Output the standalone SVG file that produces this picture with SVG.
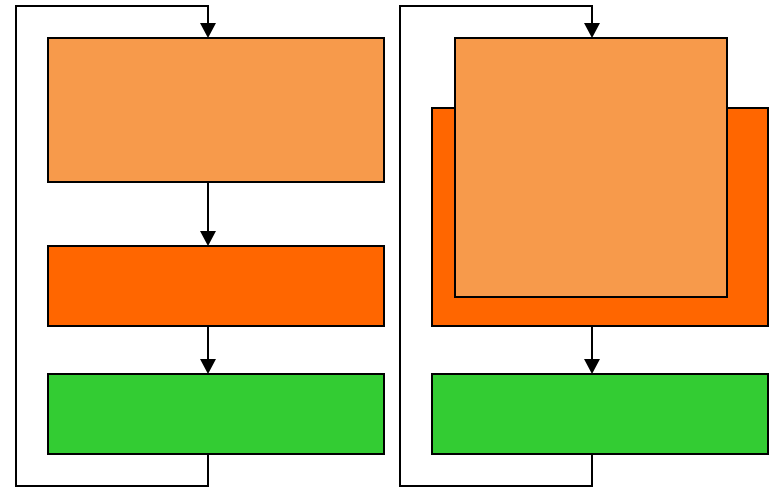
<svg xmlns="http://www.w3.org/2000/svg" width="773" height="488" viewBox="0 0 773 488">
<style>
.box{stroke:#000;stroke-width:2}
.lo{fill:#F79A4B}
.or{fill:#FF6600}
.gr{fill:#33CC33}
.c{fill:none;stroke:#000;stroke-width:2}
.ah{fill:#000}
</style>
<g id="left-box1"><rect class="box lo" x="48" y="38" width="336" height="144"/></g>
<g id="left-box2"><rect class="box or" x="48" y="246" width="336" height="80"/></g>
<g id="left-box3"><rect class="box gr" x="48" y="374" width="336" height="80"/></g>
<g id="right-box-orange"><rect class="box or" x="432" y="108" width="336" height="218"/></g>
<g id="right-box-light"><rect class="box lo" x="455" y="38" width="272" height="259"/></g>
<g id="right-box-green"><rect class="box gr" x="432" y="374" width="336" height="80"/></g>
<g id="connectors">
<path class="c" d="M208,182 V231"/>
<path class="ah" d="M200,231 L216,231 L208,246 Z"/>
<path class="c" d="M208,326 V359"/>
<path class="ah" d="M200,359 L216,359 L208,374 Z"/>
<path class="c" d="M208,454 V486 H16 V6 H208 V23"/>
<path class="ah" d="M200,23 L216,23 L208,38 Z"/>
<path class="c" d="M592,326 V359"/>
<path class="ah" d="M584,359 L600,359 L592,374 Z"/>
<path class="c" d="M592,454 V486 H400 V6 H592 V23"/>
<path class="ah" d="M584,23 L600,23 L592,38 Z"/>
</g>
</svg>
